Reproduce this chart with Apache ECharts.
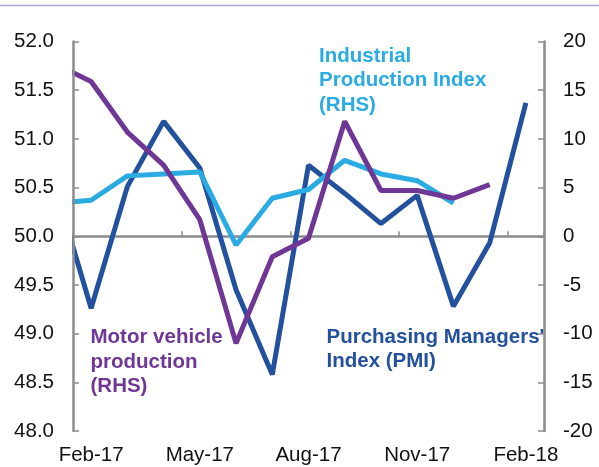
<!DOCTYPE html>
<html><head><meta charset="utf-8">
<script src="https://cdn.jsdelivr.net/npm/echarts@6/dist/echarts.min.js"></script>
<style>html,body{margin:0;padding:0;background:#fff}#c{width:599px;height:467px}</style>
</head><body><div id="c"></div>
<script>
// Months (first one is only partly visible, clipped at the left axis)
const months = ['Jan-17','Feb-17','Mar-17','Apr-17','May-17','Jun-17','Jul-17','Aug-17','Sep-17','Oct-17','Nov-17','Dec-17','Jan-18','Feb-18'];
const axisMonths = months.slice(1);
// Purchasing Managers' Index (LHS)
const pmi = [50.52, 49.26, 50.51, 51.18, 50.70, 49.45, 48.58, 50.73, 50.44, 50.13, 50.42, 49.28, 49.93, 51.37];
// Industrial Production Index (RHS)
const ipi = [3.4, 3.7, 6.2, 6.4, 6.6, -0.9, 3.9, 4.8, 7.8, 6.4, 5.7, 3.4, null, null];
// Motor vehicle production (RHS)
const mvp = [17.7, 15.9, 10.7, 7.3, 1.7, -11.0, -2.1, -0.2, 11.8, 4.7, 4.7, 3.9, 5.3, null];
// Axis ranges
const leftAxis = {min: 48, max: 52, interval: 0.5};
const rightAxis = {min: -20, max: 20, interval: 5};

const FONT = 'Liberation Sans, Arial, Helvetica, sans-serif';
const GREY = '#8c8c8c';
const C_PMI = '#23519e', C_IP = '#2aace2', C_MV = '#6f3795';
const toXY = arr => arr.map((v, i) => [i - 1, v]);

const chart = echarts.init(document.getElementById('c'), null, {renderer: 'canvas'});
const yCommon = {
  type: 'value', splitLine: {show: false}, z: 12,
  axisLine: {show: true, onZero: false, lineStyle: {color: GREY, width: 2.5}},
  axisTick: {show: true, inside: true, length: 6, lineStyle: {color: GREY, width: 1.5}},
  axisLabel: {color: '#111', fontSize: 20.5, fontFamily: FONT, margin: 19}
};
chart.setOption({
  animation: false,
  backgroundColor: '#fff',
  grid: {left: 73, right: 55, top: 41.5, bottom: 36, containLabel: false},
  xAxis: [
    {type: 'category', data: axisMonths, boundaryGap: true, position: 'bottom',
     axisLine: {show: false, onZero: false}, axisTick: {show: false},
     axisLabel: {interval: 2, color: '#111', fontSize: 20.5, fontFamily: FONT, margin: 14}},
    {type: 'category', data: axisMonths, boundaryGap: true, position: 'bottom',
     axisLine: {show: true, onZero: true, onZeroAxisIndex: 1, lineStyle: {color: GREY, width: 2.5}},
     axisTick: {show: true, inside: true, length: 5, interval: 2, lineStyle: {color: GREY, width: 1.5}},
     axisLabel: {show: false}},
    {type: 'value', min: -0.5, max: 12.5, show: false, axisLine: {onZero: false}}
  ],
  yAxis: [
    Object.assign({}, yCommon, {position: 'left', min: leftAxis.min, max: leftAxis.max, interval: leftAxis.interval,
      axisLabel: Object.assign({}, yCommon.axisLabel, {formatter: v => v.toFixed(1)})}),
    Object.assign({}, yCommon, {position: 'right', min: rightAxis.min, max: rightAxis.max, interval: rightAxis.interval})
  ],
  series: [
    {name: "Purchasing Managers' Index (PMI)", type: 'line', xAxisIndex: 2, yAxisIndex: 0, data: toXY(pmi),
     symbol: 'none', clip: true, lineStyle: {color: C_PMI, width: 5}},
    {name: 'Industrial Production Index (RHS)', type: 'line', xAxisIndex: 2, yAxisIndex: 1, data: toXY(ipi),
     symbol: 'none', clip: true, lineStyle: {color: C_IP, width: 5}},
    {name: 'Motor vehicle production (RHS)', type: 'line', xAxisIndex: 2, yAxisIndex: 1, data: toXY(mvp),
     symbol: 'none', clip: true, lineStyle: {color: C_MV, width: 5}}
  ],
  graphic: [
    {type: 'rect', z: 10, shape: {x: 58, y: 30, width: 14, height: 410}, style: {fill: '#fff'}},
    {type: 'line', shape: {x1: 0, y1: 5.5, x2: 599, y2: 5.5}, style: {stroke: '#a3a6cf', lineWidth: 1.6}},
    {type: 'text', left: 319, top: 44, style: {text: 'Industrial\nProduction Index\n(RHS)', fill: C_IP,
      font: 'bold 20.5px ' + FONT, lineHeight: 24.5}},
    {type: 'text', left: 90.5, top: 325.5, style: {text: 'Motor vehicle\nproduction\n(RHS)', fill: C_MV,
      font: 'bold 20.5px ' + FONT, lineHeight: 24.5}},
    {type: 'text', left: 326.5, top: 325, style: {text: "Purchasing Managers'\nIndex (PMI)", fill: C_PMI,
      font: 'bold 20.5px ' + FONT, lineHeight: 24.5}}
  ]
});
</script></body></html>
